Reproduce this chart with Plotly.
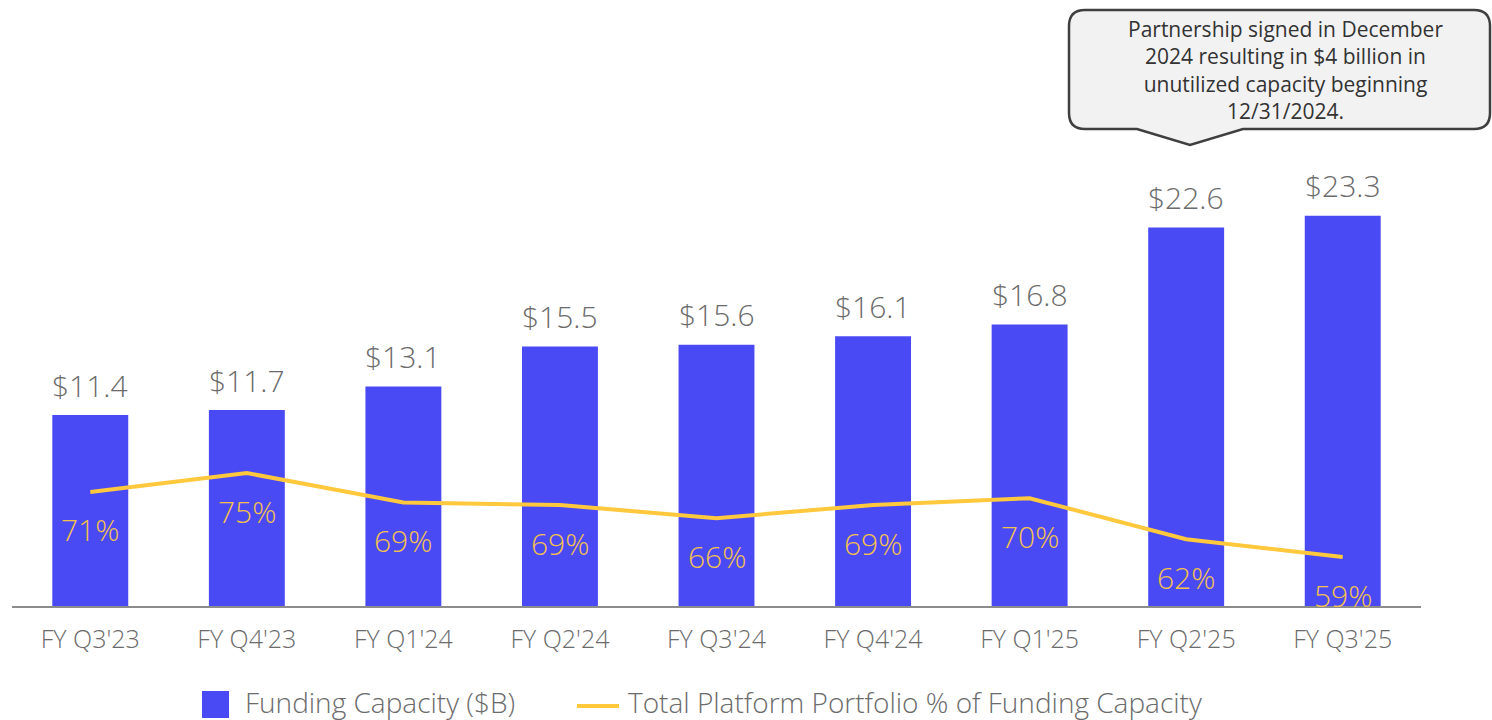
import plotly.graph_objects as go

categories = ["FY Q3'23", "FY Q4'23", "FY Q1'24", "FY Q2'24", "FY Q3'24",
              "FY Q4'24", "FY Q1'25", "FY Q2'25", "FY Q3'25"]
funding_capacity = [11.4, 11.7, 13.1, 15.5, 15.6, 16.1, 16.8, 22.6, 23.3]
portfolio_pct = [71.4, 75.0, 69.4, 68.9, 66.4, 68.9, 70.2, 62.4, 59.0]
series_names = ["Funding Capacity ($B)", "Total Platform Portfolio % of Funding Capacity"]
callout_lines = ["Partnership signed in December", "2024 resulting in $4 billion in",
                 "unutilized capacity beginning", "12/31/2024."]

W, H = 1492, 720
L, R, T, B = 12, 71, 130, 114
PW, PH = W - L - R, H - T - B

BAR = "#4A4AF4"
LINE = "#FFC83D"
PCT = "#F4C14F"
GREY = "#6B6B6B"
FONT = "Open Sans"
WT = 300


def px(x):
    return (x - L) / PW


def py(y):
    return (H - B - y) / PH


fig = go.Figure()
fig.add_trace(go.Bar(x=categories, y=funding_capacity, name=series_names[0],
                     marker=dict(color=BAR, line=dict(width=0)), width=0.485,
                     hoverinfo="skip", showlegend=False))
fig.add_trace(go.Scatter(x=categories, y=portfolio_pct, yaxis="y2", mode="lines",
                         name=series_names[1], line=dict(color=LINE, width=4),
                         hoverinfo="skip", showlegend=False))

annotations = []
for c, v in zip(categories, funding_capacity):
    annotations.append(dict(x=c, y=v, xref="x", yref="y", text=f"${v:.1f}",
                            showarrow=False, yanchor="middle", yshift=30,
                            font=dict(family=FONT, size=30, color=GREY, weight=WT)))
for c, p in zip(categories, portfolio_pct):
    annotations.append(dict(x=c, y=p, xref="x", yref="y2", text=f"{p:.0f}%",
                            showarrow=False, yanchor="middle", yshift=-38,
                            font=dict(family=FONT, size=30, color=PCT, weight=WT)))
annotations.append(dict(x=px(1285), y=py(70), xref="paper", yref="paper",
                        text="<br>".join(callout_lines), showarrow=False,
                        xanchor="center", yanchor="middle", align="center",
                        font=dict(family=FONT, size=21, color="#333333", weight=400)))
# manual legend labels
annotations.append(dict(x=px(243), y=py(702), xref="paper", yref="paper",
                        text=series_names[0], showarrow=False, xanchor="left",
                        yanchor="middle",
                        font=dict(family=FONT, size=28, color=GREY, weight=WT)))
annotations.append(dict(x=px(626), y=py(702), xref="paper", yref="paper",
                        text=series_names[1], showarrow=False, xanchor="left",
                        yanchor="middle",
                        font=dict(family=FONT, size=28, color=GREY, weight=WT)))

# callout bubble path (pixels -> paper)
r = 16
x0, x1, y0, y1 = 1069, 1490, 10, 129
pts = [
    f"M {px(x0 + r)},{py(y0)}",
    f"L {px(x1 - r)},{py(y0)}",
    f"Q {px(x1)},{py(y0)} {px(x1)},{py(y0 + r)}",
    f"L {px(x1)},{py(y1 - r)}",
    f"Q {px(x1)},{py(y1)} {px(x1 - r)},{py(y1)}",
    f"L {px(1243)},{py(y1)}",
    f"L {px(1190)},{py(145)}",
    f"L {px(1137)},{py(y1)}",
    f"L {px(x0 + r)},{py(y1)}",
    f"Q {px(x0)},{py(y1)} {px(x0)},{py(y1 - r)}",
    f"L {px(x0)},{py(y0 + r)}",
    f"Q {px(x0)},{py(y0)} {px(x0 + r)},{py(y0)}",
    "Z",
]
shapes = [
    dict(type="path", xref="paper", yref="paper", path=" ".join(pts),
         fillcolor="#F2F2F2", line=dict(color="#3F3F3F", width=2.5), layer="below"),
    # legend swatches
    dict(type="rect", xref="paper", yref="paper", x0=px(202), x1=px(229),
         y0=py(718), y1=py(691), fillcolor=BAR, line=dict(width=0)),
    dict(type="line", xref="paper", yref="paper", x0=px(577), x1=px(619),
         y0=py(706), y1=py(706), line=dict(color=LINE, width=4)),
]

ymax = PH / 16.75
y2min = 49.67
y2max = y2min + PH / 5.25

fig.update_layout(
    width=W, height=H,
    margin=dict(l=L, r=R, t=T, b=B, autoexpand=False),
    paper_bgcolor="white", plot_bgcolor="rgba(0,0,0,0)",
    font=dict(family=FONT, color=GREY),
    xaxis=dict(showline=True, linecolor="#8C8C8C", linewidth=2, showgrid=False,
               ticks="", tickfont=dict(family=FONT, size=25, color=GREY, weight=WT),
               ticklabelstandoff=10, fixedrange=True),
    yaxis=dict(range=[0, ymax], visible=False, showgrid=False, fixedrange=True),
    yaxis2=dict(range=[y2min, y2max], overlaying="y", visible=False,
                showgrid=False, fixedrange=True),
    showlegend=False,
    annotations=annotations, shapes=shapes, bargap=0.515,
)
fig.write_html("out.html", config={"displayModeBar": False},
               post_script="document.body.style.margin='0';")
